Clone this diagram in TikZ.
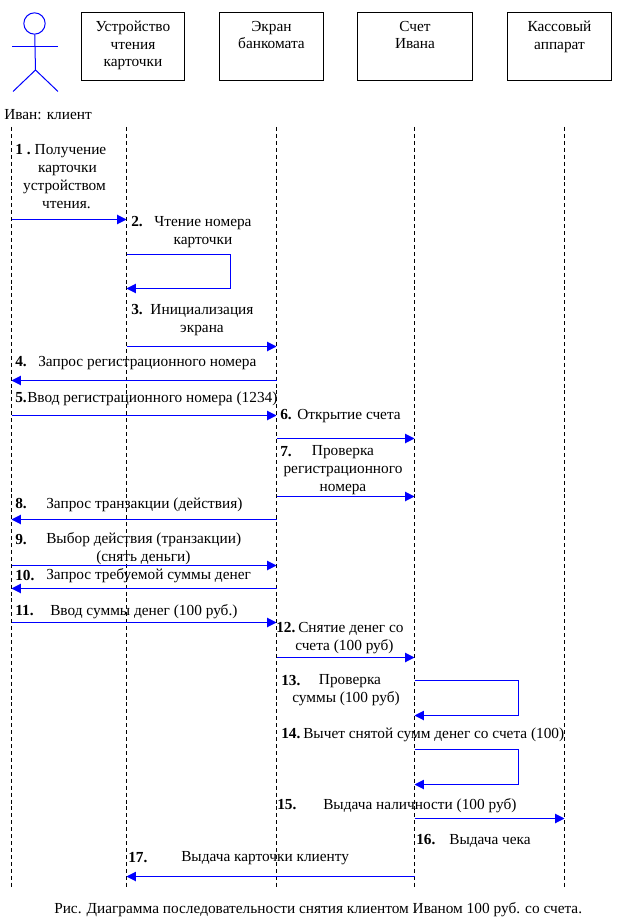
\documentclass[tikz,border=0pt]{standalone}
\usepackage{fontspec}
\setmainfont{Liberation Serif}
\usepackage{xcolor}
\usetikzlibrary{arrows.meta}
\definecolor{msgblue}{RGB}{0,0,255}

\begin{document}
\begin{tikzpicture}[
  x=0.75pt, y=-0.75pt,
  obj/.style={draw, line width=0.75pt, align=center, minimum height=51pt, inner sep=0pt, font=\fontsize{11.5}{13.4}\selectfont, execute at end node=\rule[-4pt]{0pt}{0pt}},
  lbl/.style={inner sep=0pt, text height=9.2pt, text depth=0.8pt, font=\fontsize{11.5}{13.4}\selectfont},
  block/.style={align=center, inner sep=0pt, font=\fontsize{11.5}{13.5}\selectfont},
  num/.style={lbl, anchor=west, font=\fontsize{11.5}{13.4}\selectfont\bfseries},
  life/.style={dash pattern=on 3pt off 2.2pt, line width=0.75pt},
  msg/.style={-{Triangle[length=7pt,width=7pt]}, msgblue, line width=0.75pt},
  stick/.style={msgblue, line width=0.75pt}
]
\useasboundingbox (0,0) rectangle (623,923);

% actor
\node[draw=msgblue, circle, line width=0.75pt, minimum size=16pt, inner sep=0pt] (head) at (34.5,23.5) {};
\coordinate (hip) at (35.5,70);
\coordinate (armL) at (12,46.5);
\coordinate (armR) at (58,46.5);
\coordinate (legL) at (13,91.5);
\coordinate (legR) at (58,91.5);
\draw[stick] (head) -- (hip);
\draw[stick] (armL) -- (armR);
\draw[stick] (legL) -- (hip) -- (legR);
\node[lbl, anchor=west] (ivanname) at (4,114) {Иван: клиент};

% objects
\node[obj, minimum width=77.25pt] (readerbox) at (133,46.5) {Устройство\\чтения\\карточки};
\node[obj, minimum width=78pt] (screenbox) at (271.5,46.5) {Экран\\банкомата\\~};
\node[obj, minimum width=86.25pt] (accountbox) at (415,46.5) {Счет\\Ивана\\~};
\node[obj, minimum width=78pt] (tillbox) at (559.5,46.5) {Кассовый\\аппарат\\~};

% lifelines
\coordinate (ivan) at (11.5,127);
\coordinate (reader) at (126.5,127);
\coordinate (screen) at (276.5,127);
\coordinate (account) at (414.5,127);
\coordinate (till) at (564.5,127);
\coordinate (bottom) at (0,888);
\draw[life] (ivan) -- (ivan |- bottom);
\draw[life] (reader) -- (reader |- bottom);
\draw[life] (screen) -- (screen |- bottom);
\draw[life] (account) -- (account |- bottom);
\draw[life] (till) -- (till |- bottom);

% message levels
\coordinate (m1) at (0,219.5);
\coordinate (m2) at (0,254.5);
\coordinate (m2b) at (230.5,288.5);
\coordinate (m3) at (0,346.5);
\coordinate (m4) at (0,380.5);
\coordinate (m5) at (0,415.5);
\coordinate (m6) at (0,438.5);
\coordinate (m7) at (0,496.5);
\coordinate (m8) at (0,519.5);
\coordinate (m9) at (0,565.5);
\coordinate (m10) at (0,588.5);
\coordinate (m11) at (0,622.5);
\coordinate (m12) at (0,657.5);
\coordinate (m13) at (0,680.5);
\coordinate (m13b) at (518.5,715.5);
\coordinate (m14) at (0,749.5);
\coordinate (m14b) at (518.5,784.5);
\coordinate (m15) at (0,818.5);
\coordinate (m17) at (0,876.5);

\draw[msg] (ivan |- m1) -- (reader |- m1);
\draw[msg] (reader |- m2) -| (m2b) -- (reader |- m2b);
\draw[msg] (reader |- m3) -- (screen |- m3);
\draw[msg] (screen |- m4) -- (ivan |- m4);
\draw[msg] (ivan |- m5) -- (screen |- m5);
\draw[msg] (screen |- m6) -- (account |- m6);
\draw[msg] (screen |- m7) -- (account |- m7);
\draw[msg] (screen |- m8) -- (ivan |- m8);
\draw[msg] (ivan |- m9) -- (screen |- m9);
\draw[msg] (screen |- m10) -- (ivan |- m10);
\draw[msg] (ivan |- m11) -- (screen |- m11);
\draw[msg] (screen |- m12) -- (account |- m12);
\draw[msg] (account |- m13) -| (m13b) -- (account |- m13b);
\draw[msg] (account |- m14) -| (m14b) -- (account |- m14b);
\draw[msg] (account |- m15) -- (till |- m15);
\draw[msg] (account |- m17) -- (reader |- m17);

% labels
\node[num] (n1) at (15,149) {1 .};
\node[block] (t1) at (64.5,176.5) {\hspace*{9pt}Получение\\\hspace*{4.5pt}карточки\\устройством\\\hspace*{3pt}чтения.};
\node[num] (n2) at (131,221) {2.};
\node[block] (t2) at (203,232) {Чтение номера\\карточки};
\node[num] (n3) at (131,309) {3.};
\node[block] (t3) at (202,320) {Инициализация\\экрана};
\node[num] (n4) at (15,361) {4.};
\node[lbl, anchor=west] (t4) at (38,361) {Запрос регистрационного номера};
\node[num] (n5) at (15,397) {5.};
\node[lbl, anchor=west] (t5) at (27,397) {Ввод регистрационного номера (1234)};
\node[num] (n6) at (280,414) {6.};
\node[lbl, anchor=west] (t6) at (297,414) {Открытие счета};
\node[num] (n7) at (280,451) {7.};
\node[block] (t7) at (343,470.5) {Проверка\\регистрационного\\номера};
\node[num] (n8) at (15,503) {8.};
\node[lbl, anchor=west] (t8) at (46,503) {Запрос транзакции (действия)};
\node[num] (n9) at (15,539) {9.};
\node[lbl, anchor=west] (t9) at (46,538) {Выбор действия (транзакции)};
\node[lbl, anchor=west] (t9b) at (96,556) {(снять деньги)};
\node[num] (n10) at (15,575) {10.};
\node[lbl, anchor=west] (t10) at (46,574) {Запрос требуемой суммы денег};
\node[num] (n11) at (15,610) {11.};
\node[lbl, anchor=west] (t11) at (50,610) {Ввод суммы денег (100 руб.)};
\node[num] (n12) at (276,627) {12.};
\node[lbl, anchor=west] (t12) at (298,627) {Снятие денег со};
\node[lbl, anchor=west] (t12b) at (295,645) {счета (100 руб)};
\node[num] (n13) at (281,680) {13.};
\node[block] (t13) at (346,690.5) {\hspace*{6pt}Проверка\\суммы (100 руб)};
\node[num] (n14) at (281,733) {14.};
\node[lbl, anchor=west] (t14) at (303,733) {Вычет снятой сумм денег со счета (100)};
\node[num] (n15) at (277,804) {15.};
\node[lbl, anchor=west] (t15) at (323,804) {Выдача наличности (100 руб)};
\node[num] (n16) at (416,839) {16.};
\node[lbl, anchor=west] (t16) at (449,839) {Выдача чека};
\node[num] (n17) at (128,857) {17.};
\node[lbl, anchor=west] (t17) at (181,856) {Выдача карточки клиенту};
\node[lbl, anchor=west] (caption) at (54,908) {Рис. Диаграмма последовательности снятия клиентом Иваном 100 руб. со счета.};
\end{tikzpicture}
\end{document}
